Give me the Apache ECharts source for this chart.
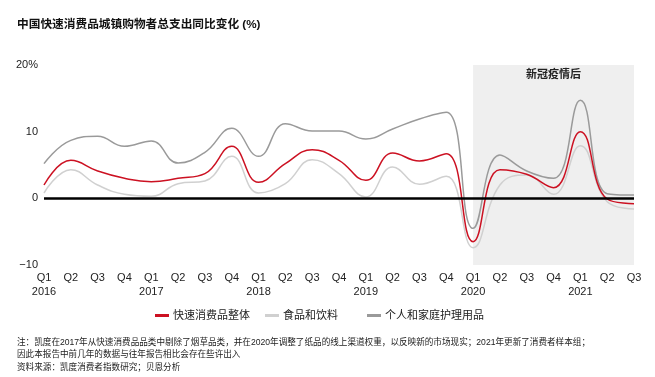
<!DOCTYPE html>
<html lang="zh">
<head>
    <meta charset="UTF-8">
    <title>中国快速消费品城镇购物者总支出同比变化</title>
    <script src="https://cdn.jsdelivr.net/npm/echarts@6/dist/echarts.min.js"></script>
    <style>
        html, body { margin: 0; padding: 0; background: #fff; }
        #chart { width: 655px; height: 377px; }
    </style>
</head>
<body>
    <div id="chart"></div>
    <script>
        // quarters 2016 Q1 .. 2021 Q3
        var quarterLabels = ['Q1','Q2','Q3','Q4','Q1','Q2','Q3','Q4','Q1','Q2','Q3','Q4',
                             'Q1','Q2','Q3','Q4','Q1','Q2','Q3','Q4','Q1','Q2','Q3'];
        var yearLabels = ['2016','','','','2017','','','','2018','','','',
                          '2019','','','','2020','','','','2021','',''];
        var yTicks = [-10, 0, 10, 20];

        var fmcgTotal = [2.0, 5.7, 4.1, 3.0, 2.5, 3.0, 3.7, 7.8, 2.4, 5.2, 7.3, 5.7,
                         2.7, 6.8, 5.6, 6.7, -6.5, 4.3, 3.6, 1.6, 10.0, -0.1, -0.8];
        var foodDrink = [0.8, 4.3, 2.0, 0.6, 0.3, 2.2, 2.6, 6.3, 0.8, 2.2, 5.8, 3.7,
                         0.2, 4.7, 2.1, 3.3, -7.4, 2.0, 3.5, 0.6, 7.9, -0.5, -1.6];
        var personalHome = [5.2, 8.7, 9.3, 7.8, 8.6, 5.3, 6.9, 10.5, 6.3, 11.2, 10.1, 10.1,
                            8.9, 10.4, 11.9, 12.9, -4.5, 6.5, 4.1, 3.0, 14.7, 0.7, 0.5];

        var categories = quarterLabels.map(function (q, i) { return i + '-' + q; });
        var covidStart = 16, covidEnd = 22;

        var font = '"Liberation Sans", "Noto Sans CJK SC", sans-serif';
        var chart = echarts.init(document.getElementById('chart'));

        function legendAt(name, left) {
            return {
                data: [name], left: left, top: 310, padding: 0,
                icon: 'rect', itemWidth: 14, itemHeight: 3, itemGap: 5,
                textStyle: { fontFamily: font, fontSize: 11, color: '#222', padding: [0, 0, 0, -1] }
            };
        }

        var option = {
            backgroundColor: '#fff',
            animation: false,
            textStyle: { fontFamily: font },
            title: {
                text: '中国快速消费品城镇购物者总支出同比变化 (%)',
                left: 12, top: 14,
                textStyle: { fontFamily: font, fontSize: 11.7, fontWeight: 'bold', color: '#111' }
            },
            legend: [
                legendAt('快速消费品整体', 155),
                legendAt('食品和饮料', 265),
                legendAt('个人和家庭护理用品', 367)
            ],
            grid: { left: 44, right: 21, top: 65, bottom: 112, containLabel: false },
            xAxis: {
                type: 'category',
                data: categories,
                boundaryGap: false,
                axisLine: { show: false },
                axisTick: { show: false },
                axisLabel: {
                    interval: 0, margin: 6,
                    fontSize: 11, color: '#222', lineHeight: 14,
                    formatter: function (v, i) {
                        return yearLabels[i] ? quarterLabels[i] + '\n' + yearLabels[i] : quarterLabels[i];
                    }
                }
            },
            yAxis: {
                type: 'value',
                min: yTicks[0], max: yTicks[yTicks.length - 1], interval: 10,
                splitLine: { show: false },
                axisLine: { show: false },
                axisTick: { show: false },
                axisLabel: {
                    fontSize: 11, color: '#222', margin: 6,
                    formatter: function (v) {
                        if (v === 20) return '20%';
                        if (v === -10) return '−10';
                        return v;
                    }
                }
            },
            series: [
                {
                    name: '个人和家庭护理用品', type: 'line', data: personalHome,
                    smooth: 0.45, symbol: 'none',
                    lineStyle: { color: '#9a9a9a', width: 1.5 }, itemStyle: { color: '#9a9a9a' },
                    markArea: {
                        silent: true,
                        itemStyle: { color: '#efefef' },
                        label: {
                            show: true, position: 'insideTop', distance: 4,
                            fontFamily: font, fontSize: 11, fontWeight: 'bold', color: '#222'
                        },
                        data: [[
                            { name: '新冠疫情后', xAxis: categories[covidStart] },
                            { xAxis: categories[covidEnd] }
                        ]]
                    }
                },
                {
                    name: '食品和饮料', type: 'line', data: foodDrink,
                    smooth: 0.45, symbol: 'none',
                    lineStyle: { color: '#d0d0d0', width: 1.5 }, itemStyle: { color: '#d0d0d0' }
                },
                {
                    name: '快速消费品整体', type: 'line', data: fmcgTotal,
                    smooth: 0.45, symbol: 'none', z: 3,
                    lineStyle: { color: '#cc1122', width: 1.5 }, itemStyle: { color: '#cc1122' },
                    markLine: {
                        silent: true, symbol: 'none', z: 5,
                        label: { show: false },
                        lineStyle: { color: '#000', width: 2.5, type: 'solid' },
                        data: [{ yAxis: 0 }]
                    }
                }
            ],
            graphic: [
                {
                    type: 'text', left: 17, top: 336,
                    style: {
                        text: '注：凯度在2017年从快速消费品品类中剔除了烟草品类，并在2020年调整了纸品的线上渠道权重，以反映新的市场现实；2021年更新了消费者样本组；\n因此本报告中前几年的数据与往年报告相比会存在些许出入\n资料来源：凯度消费者指数研究；贝恩分析',
                        font: '8.6px ' + font, fill: '#222', lineHeight: 12.5
                    }
                }
            ]
        };
        chart.setOption(option);
    </script>
</body>
</html>
